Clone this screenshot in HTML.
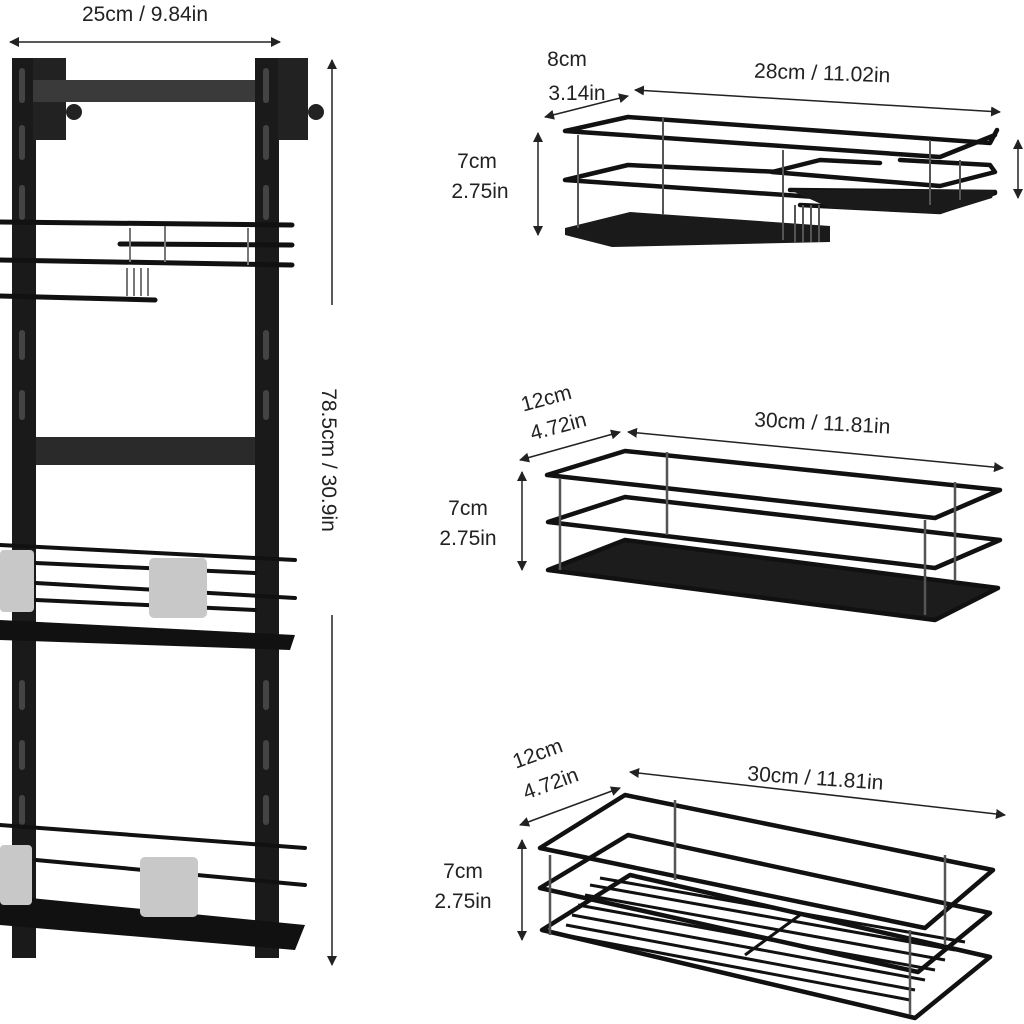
<!DOCTYPE html>
<html><head><style>
html,body{margin:0;padding:0;background:#fff;}
svg{display:block}
text{font-family:"Liberation Sans",sans-serif;fill:#222;font-size:21px}
</style></head><body>
<svg width="1024" height="1024" viewBox="0 0 1024 1024" xmlns="http://www.w3.org/2000/svg">
<defs>
<marker id="a" markerWidth="10" markerHeight="10" refX="9" refY="5" orient="auto-start-reverse" markerUnits="userSpaceOnUse">
<path d="M0,0 L10,5 L0,10 z" fill="#222"/></marker>
</defs>
<!-- top dimension -->
<text x="145" y="21" text-anchor="middle">25cm / 9.84in</text>
<line x1="10" y1="42" x2="280" y2="42" stroke="#222" stroke-width="1.5" marker-start="url(#a)" marker-end="url(#a)"/>
<!-- vertical dimension -->
<line x1="332" y1="60" x2="332" y2="305" stroke="#222" stroke-width="1.5" marker-start="url(#a)"/>
<line x1="332" y1="615" x2="332" y2="965" stroke="#222" stroke-width="1.5" marker-end="url(#a)"/>
<text transform="translate(322,460) rotate(90)" text-anchor="middle">78.5cm / 30.9in</text>

<!-- rack posts -->
<rect x="12" y="58" width="24" height="900" fill="#1a1a1a"/>
<rect x="255" y="58" width="24" height="900" fill="#1a1a1a"/>
<g fill="#444">
<rect x="19" y="68" width="6" height="35" rx="3"/><rect x="263" y="68" width="6" height="35" rx="3"/>
<rect x="19" y="125" width="6" height="35" rx="3"/><rect x="263" y="125" width="6" height="35" rx="3"/>
<rect x="19" y="185" width="6" height="35" rx="3"/><rect x="263" y="185" width="6" height="35" rx="3"/>
<rect x="19" y="330" width="6" height="30" rx="3"/><rect x="263" y="330" width="6" height="30" rx="3"/>
<rect x="19" y="390" width="6" height="30" rx="3"/><rect x="263" y="390" width="6" height="30" rx="3"/>
<rect x="19" y="680" width="6" height="30" rx="3"/><rect x="263" y="680" width="6" height="30" rx="3"/>
<rect x="19" y="740" width="6" height="30" rx="3"/><rect x="263" y="740" width="6" height="30" rx="3"/>
<rect x="19" y="795" width="6" height="30" rx="3"/><rect x="263" y="795" width="6" height="30" rx="3"/>
</g>
<!-- brackets -->
<rect x="33" y="58" width="33" height="82" fill="#222"/>
<rect x="278" y="58" width="30" height="82" fill="#222"/>
<circle cx="74" cy="112" r="8" fill="#222"/><circle cx="316" cy="112" r="8" fill="#222"/>
<rect x="33" y="80" width="222" height="22" fill="#3a3a3a"/>
<rect x="36" y="437" width="219" height="28" fill="#2a2a2a"/>
<!-- shelf 1 -->
<g stroke="#111" stroke-width="5" fill="none" stroke-linecap="round">
<line x1="0" y1="222" x2="292" y2="225"/>
<line x1="120" y1="244" x2="292" y2="245"/>
<line x1="0" y1="260" x2="292" y2="265"/>
<line x1="0" y1="296" x2="155" y2="300"/>
</g>
<g stroke="#777" stroke-width="2"><line x1="130" y1="228" x2="130" y2="262"/><line x1="165" y1="226" x2="165" y2="262"/><line x1="248" y1="228" x2="248" y2="265"/>
<line x1="127" y1="268" x2="127" y2="296"/><line x1="134" y1="268" x2="134" y2="296"/><line x1="141" y1="268" x2="141" y2="296"/><line x1="148" y1="268" x2="148" y2="296"/></g>
<!-- shelf 2 -->
<g stroke="#111" stroke-width="4" fill="none" stroke-linecap="round">
<line x1="0" y1="545" x2="295" y2="560"/>
<line x1="36" y1="563" x2="255" y2="573"/>
<line x1="36" y1="583" x2="295" y2="598"/>
<line x1="36" y1="600" x2="255" y2="610"/>
</g>
<polygon points="0,620 295,635 290,650 0,640" fill="#111"/>
<rect x="0" y="550" width="34" height="62" rx="4" fill="#c8c8c8"/>
<rect x="149" y="558" width="58" height="60" rx="5" fill="#c8c8c8"/>
<!-- shelf 3 -->
<g stroke="#111" stroke-width="4" fill="none" stroke-linecap="round">
<line x1="0" y1="825" x2="305" y2="848"/>
<line x1="36" y1="860" x2="305" y2="885"/>
</g>
<polygon points="0,895 305,925 295,950 0,925" fill="#111"/>
<rect x="0" y="845" width="32" height="60" rx="4" fill="#c8c8c8"/>
<rect x="140" y="857" width="58" height="60" rx="5" fill="#c8c8c8"/>

<!-- basket 1 -->
<text x="567" y="66" text-anchor="middle">8cm</text>
<text x="577" y="100" text-anchor="middle">3.14in</text>
<line x1="545" y1="117" x2="628" y2="96" stroke="#222" stroke-width="1.5" marker-start="url(#a)" marker-end="url(#a)"/>
<text x="822" y="80" text-anchor="middle" transform="rotate(2 822 80)">28cm / 11.02in</text>
<line x1="635" y1="90" x2="1000" y2="112" stroke="#222" stroke-width="1.5" marker-start="url(#a)" marker-end="url(#a)"/>
<text x="477" y="168" text-anchor="middle">7cm</text>
<text x="480" y="198" text-anchor="middle">2.75in</text>
<line x1="538" y1="133" x2="538" y2="235" stroke="#222" stroke-width="1.5" marker-start="url(#a)" marker-end="url(#a)"/>
<line x1="1018" y1="140" x2="1018" y2="198" stroke="#222" stroke-width="1.5" marker-start="url(#a)" marker-end="url(#a)"/>
<g stroke="#111" stroke-width="4.5" fill="none" stroke-linejoin="round" stroke-linecap="round">
<path d="M565,131 L628,117 L990,143 L997,130 M565,131 L940,157 L995,135"/>
<path d="M565,180 L628,165 L780,172 M565,180 L830,198"/>
<path d="M772,172 L820,160 L880,163 M772,172 L940,186 L995,172 L990,165 L900,160"/>
<path d="M790,190 L995,192 M800,205 L940,212 L995,193"/>
</g>
<polygon points="565,228 630,212 830,226 830,242 612,247 565,235" fill="#1a1a1a"/>
<polygon points="790,190 995,190 992,198 940,214 830,208" fill="#1a1a1a"/>
<g stroke="#555" stroke-width="2"><line x1="578" y1="135" x2="578" y2="228"/><line x1="663" y1="118" x2="663" y2="215"/><line x1="783" y1="150" x2="783" y2="240"/><line x1="930" y1="140" x2="930" y2="205"/><line x1="960" y1="160" x2="960" y2="200"/>
<line x1="795" y1="205" x2="795" y2="242"/><line x1="803" y1="205" x2="803" y2="242"/><line x1="811" y1="205" x2="811" y2="242"/><line x1="819" y1="205" x2="819" y2="242"/></g>

<!-- basket 2 -->
<text x="548" y="405" text-anchor="middle" transform="rotate(-15 548 405)">12cm</text>
<text x="560" y="433" text-anchor="middle" transform="rotate(-15 560 433)">4.72in</text>
<line x1="520" y1="460" x2="620" y2="432" stroke="#222" stroke-width="1.5" marker-start="url(#a)" marker-end="url(#a)"/>
<text x="822" y="430" text-anchor="middle" transform="rotate(3 822 430)">30cm / 11.81in</text>
<line x1="628" y1="432" x2="1003" y2="468" stroke="#222" stroke-width="1.5" marker-start="url(#a)" marker-end="url(#a)"/>
<text x="468" y="515" text-anchor="middle">7cm</text>
<text x="468" y="545" text-anchor="middle">2.75in</text>
<line x1="522" y1="472" x2="522" y2="570" stroke="#222" stroke-width="1.5" marker-start="url(#a)" marker-end="url(#a)"/>
<polygon points="548,570 625,540 998,588 935,620" fill="#1c1c1c"/>
<g stroke="#111" stroke-width="4.5" fill="none" stroke-linejoin="round">
<polygon points="547,475 625,451 1000,490 935,518"/>
<polygon points="548,522 625,497 1000,540 935,568"/>
<polygon points="548,570 625,540 998,588 935,620"/>
</g>
<g stroke="#555" stroke-width="2.5"><line x1="560" y1="478" x2="560" y2="570"/><line x1="667" y1="452" x2="667" y2="535"/><line x1="925" y1="520" x2="925" y2="615"/><line x1="955" y1="482" x2="955" y2="580"/></g>

<!-- basket 3 -->
<text x="540" y="760" text-anchor="middle" transform="rotate(-20 540 760)">12cm</text>
<text x="553" y="790" text-anchor="middle" transform="rotate(-20 553 790)">4.72in</text>
<line x1="520" y1="825" x2="620" y2="788" stroke="#222" stroke-width="1.5" marker-start="url(#a)" marker-end="url(#a)"/>
<text x="815" y="785" text-anchor="middle" transform="rotate(4 815 785)">30cm / 11.81in</text>
<line x1="630" y1="772" x2="1005" y2="815" stroke="#222" stroke-width="1.5" marker-start="url(#a)" marker-end="url(#a)"/>
<text x="463" y="878" text-anchor="middle">7cm</text>
<text x="463" y="908" text-anchor="middle">2.75in</text>
<line x1="522" y1="840" x2="522" y2="940" stroke="#222" stroke-width="1.5" marker-start="url(#a)" marker-end="url(#a)"/>
<g stroke="#111" stroke-width="3">
<line x1="590" y1="885" x2="955" y2="950"/><line x1="600" y1="878" x2="965" y2="942"/><line x1="585" y1="895" x2="945" y2="960"/>
<line x1="578" y1="905" x2="935" y2="970"/><line x1="572" y1="915" x2="925" y2="980"/><line x1="566" y1="925" x2="915" y2="990"/><line x1="565" y1="935" x2="910" y2="1000"/>
<line x1="800" y1="915" x2="745" y2="955"/>
</g>
<g stroke="#111" stroke-width="4.5" fill="none" stroke-linejoin="round">
<polygon points="540,848 625,795 993,870 925,928"/>
<polygon points="540,888 628,835 990,913 918,972"/>
<polygon points="542,930 630,875 990,957 915,1018"/>
</g>
<g stroke="#555" stroke-width="2.5"><line x1="550" y1="855" x2="550" y2="935"/><line x1="675" y1="800" x2="675" y2="880"/><line x1="910" y1="930" x2="910" y2="1015"/><line x1="945" y1="855" x2="945" y2="945"/></g>
</svg>
</body></html>
